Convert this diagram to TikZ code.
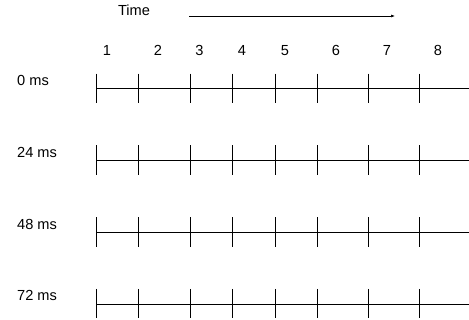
\documentclass[tikz,border=0pt]{standalone}
\usepackage{fontspec}
\setmainfont{Liberation Sans}
\usetikzlibrary{arrows.meta}
\begin{document}
\begin{tikzpicture}[x=1pt,y=-1pt,
  lbl/.style={inner sep=0pt,anchor=base,font=\fontsize{14.6}{17}\selectfont},
  rowlbl/.style={lbl,anchor=base west},
  tline/.style={line width=0.8pt,black},
  tick/.style={line width=0.8pt,black},
  timearrow/.style={line width=0.6pt,-{Latex[length=4pt,width=3pt]}}]
\useasboundingbox (0,0) rectangle (469,320);
% header
\node[lbl] (time) at (134,16) {Time};
\coordinate (ta) at (189,16);
\coordinate (tb) at (395,16);
\draw[timearrow] (ta) -- (tb);
% column numbers
\foreach \n/\x in {1/107,2/158,3/199.5,4/242,5/285,6/336,7/387,8/438}
  \node[lbl] (num\n) at (\x,56) {\n};
% rows
\foreach \r/\y/\t in {0/88.7/0 ms,1/160.5/24 ms,2/232.3/48 ms,3/304/72 ms}{
  \node[rowlbl] (row\r) at (17,\y-3.2) {\t};
  \coordinate (s\r) at (96,\y);
  \coordinate (e\r) at (469,\y);
  \draw[tline] (s\r) -- (e\r);
  \foreach \k/\x in {1/96,2/138.3,3/190,4/232.3,5/275,6/317.3,7/368.7,8/419.3}{
    \coordinate (t\r a\k) at (\x,\y-15);
    \coordinate (t\r b\k) at (\x,\y+14.5);
    \draw[tick] (t\r a\k) -- (t\r b\k);
  }
}
\end{tikzpicture}
\end{document}
